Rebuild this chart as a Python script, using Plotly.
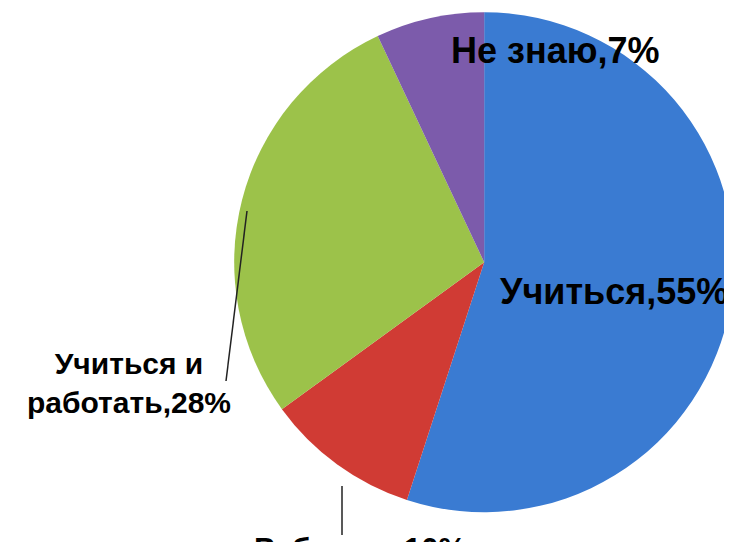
import plotly.graph_objects as go

# survey answers, clockwise from 12 o'clock
labels = ["Учиться", "Работать", "Учиться и работать", "Не знаю"]
values = [55, 10, 28, 7]
label_text = ["Учиться,55%", "Работать,10%", "Учиться и<br>работать,28%", "Не знаю,7%"]
colors = ["#3a7bd2", "#d03b34", "#9cc24a", "#7c5bab"]

W, H = 732, 542

def px(x, y):
    return x / W, 1 - y / H

fig = go.Figure(go.Pie(
    labels=labels,
    values=values,
    sort=False,
    direction="clockwise",
    rotation=0,
    marker=dict(colors=colors, line=dict(width=0)),
    textinfo="none",
    hoverinfo="label+percent",
    domain=dict(x=[0.309, 0.992], y=[0.062, 1.0]),
    showlegend=False,
))

font = dict(family="Liberation Sans, Arial, sans-serif", color="#000000")

# label positions in pixels (x, y, size)
pos = [(606, 283, 36), (352, 522, 31), (121, 375, 30), (547, 42, 36)]
for txt, (x, y, s), in zip(label_text, pos):
    ax, ay = px(x, y)
    fig.add_annotation(
        x=ax, y=ay, xref="paper", yref="paper",
        text=f"<b>{txt}</b>", showarrow=False,
        font=dict(size=s, **font),
        xanchor="center",
        yanchor="top" if y > 500 else "middle",
    )

# leader lines
for (x0, y0), (x1, y1) in [((239, 203), (218, 373)), ((334, 478), (334, 527))]:
    a0, b0 = px(x0, y0)
    a1, b1 = px(x1, y1)
    fig.add_shape(type="line", xref="paper", yref="paper",
                  x0=a0, y0=b0, x1=a1, y1=b1,
                  line=dict(color="#222222", width=1.5))

fig.update_layout(
    width=W, height=H,
    margin=dict(l=0, r=0, t=0, b=0),
    paper_bgcolor="white",
    plot_bgcolor="white",
)

fig.write_html("out.html")
